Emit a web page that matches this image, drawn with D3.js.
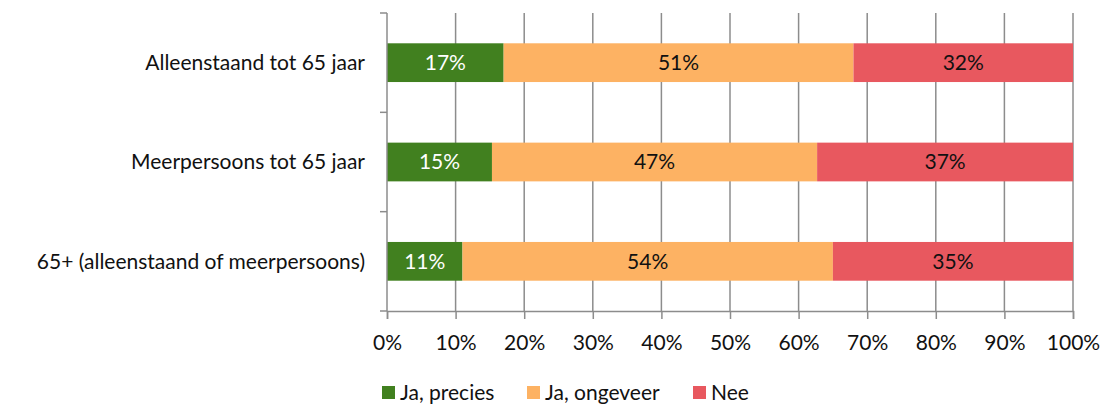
<html>
<head>
  <meta charset="utf-8">
  <title>chart</title>
  <script src="https://d3js.org/d3.v7.min.js"></script>
  <style>
    body { margin: 0; background: #fff; }
    text { font-family: Lato, "Open Sans", sans-serif; fill: #111; }
  </style>
</head>
<body>
  <div id="chart"></div>
  <script>
    // data
    var categories = ["Alleenstaand tot 65 jaar", "Meerpersoons tot 65 jaar", "65+ (alleenstaand of meerpersoons)"];
    var series = ["Ja, precies", "Ja, ongeveer", "Nee"];
    var jaPrecies = [17, 15.3, 11];
    var jaOngeveer = [51, 47.4, 54];
    var nee = [32, 37.3, 35];
    var ticks = [0, 10, 20, 30, 40, 50, 60, 70, 80, 90, 100];
    var colors = ["#41801f", "#fdb263", "#e8585f"];
    var labelColors = ["#fff", "#111", "#111"];

    (function () {
      var W = 1102, H = 405;
      var mLeft = 387, mRight = 1073, mTop = 13, mBottom = 311;
      var fs = 21;

      var svg = d3.select("#chart").append("svg")
        .attr("width", W).attr("height", H);

      var x = d3.scaleLinear().domain([0, 100]).range([mLeft, mRight]);
      var y = d3.scaleBand().domain(categories).range([mTop, mBottom]).paddingInner(0.61).paddingOuter(0.305);

      // gridlines
      svg.append("g").selectAll("line").data(ticks.slice(1)).enter().append("line")
        .attr("x1", function (d) { return x(d); }).attr("x2", function (d) { return x(d); })
        .attr("y1", mTop).attr("y2", mBottom)
        .attr("stroke", "#8c8c8c").attr("stroke-width", 1.5);

      // stacked rows
      var rows = categories.map(function (c, i) {
        return { cat: c, vals: [jaPrecies[i], jaOngeveer[i], nee[i]] };
      });

      rows.forEach(function (r) {
        var acc = 0;
        r.vals.forEach(function (v, j) {
          var x0 = x(acc), x1 = x(acc + v);
          svg.append("rect")
            .attr("x", x0).attr("y", y(r.cat))
            .attr("width", x1 - x0).attr("height", y.bandwidth())
            .attr("fill", colors[j]);
          svg.append("text")
            .attr("x", (x0 + x1) / 2).attr("y", y(r.cat) + y.bandwidth() / 2)
            .attr("dy", "0.35em").attr("text-anchor", "middle")
            .attr("font-size", fs)
            .style("fill", labelColors[j])
            .text(Math.round(v) + "%");
          acc += v;
        });
      });

      // y axis, ticks between categories
      var yTicks = [mTop].concat(categories.map(function (c) { return y(c) + y.bandwidth() / 2 + y.step() / 2; }));
      svg.append("line").attr("x1", mLeft).attr("x2", mLeft).attr("y1", mTop).attr("y2", mBottom)
        .attr("stroke", "#8c8c8c").attr("stroke-width", 1.5);
      svg.append("g").selectAll("line").data(yTicks).enter().append("line")
        .attr("x1", mLeft - 7).attr("x2", mLeft).attr("y1", function (d) { return d; }).attr("y2", function (d) { return d; })
        .attr("stroke", "#8c8c8c").attr("stroke-width", 1.5);

      svg.append("g").selectAll("text").data(categories).enter().append("text")
        .attr("x", mLeft - 22).attr("y", function (d) { return y(d) + y.bandwidth() / 2; })
        .attr("dy", "0.35em").attr("text-anchor", "end").attr("font-size", fs)
        .text(function (d) { return d; });

      // x axis
      var xAxis = svg.append("g").attr("transform", "translate(0," + mBottom + ")")
        .call(d3.axisBottom(x).tickValues(ticks).tickSize(8).tickPadding(16)
          .tickFormat(function (d) { return d + "%"; }));
      xAxis.select(".domain").attr("stroke", "#8c8c8c").attr("stroke-width", 1.5);
      xAxis.selectAll(".tick line").attr("stroke", "#8c8c8c").attr("stroke-width", 1.5);
      xAxis.selectAll("text").attr("font-size", fs).attr("font-family", null);

      // legend
      var legendX = [382, 527, 693];
      var lg = svg.append("g").selectAll("g").data(series).enter().append("g")
        .attr("transform", function (d, i) { return "translate(" + legendX[i] + ",386)"; });
      lg.append("rect").attr("width", 13).attr("height", 13)
        .attr("fill", function (d, i) { return colors[i]; });
      lg.append("text").attr("x", 18).attr("y", 7).attr("dy", "0.35em").attr("font-size", fs)
        .text(function (d) { return d; });
    })();
  </script>
</body>
</html>
